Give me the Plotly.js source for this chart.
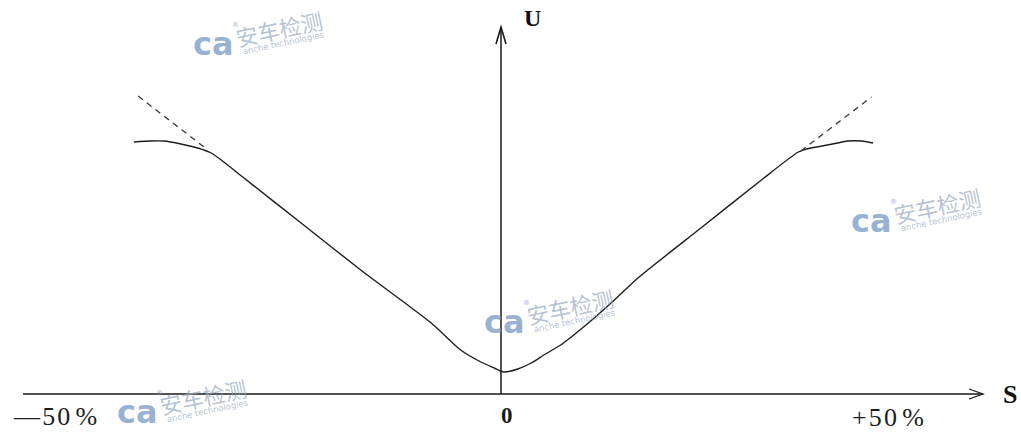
<!DOCTYPE html>
<html>
<head>
<meta charset="utf-8">
<script src="https://cdn.plot.ly/plotly-3.0.1.min.js"></script>
<style>
  html, body { margin: 0; padding: 0; background: #ffffff; }
  #chart { width: 1021px; height: 432px; }
</style>
</head>
<body>
<div id="chart"></div>
<script>
// Slip S (%) against quantity U: V-shaped characteristic, rounded at S = 0,
// saturating towards the ends (solid) versus the ideal linear trend (dashed).
const leftS  = [-43.7, -41.7, -40.1, -38.1, -36.1, -34.5, -33.3, -30.6, -23.8, -16.7, -8.3, -4.8, -2.4, -0.8, 0.3];
const leftU  = [63.0, 63.25, 63.25, 62.5, 61.5, 60.25, 58.5, 54.0, 42.75, 31.0, 17.75, 11.0, 8.0, 6.5, 5.5];
const rightS = [2.0, 3.6, 5.1, 7.1, 10.4, 13.5, 16.3, 23.8, 31.0, 35.4, 36.9, 38.9, 41.3, 42.9, 44.3];
const rightU = [6.25, 7.75, 9.75, 12.25, 17.75, 23.5, 29.0, 41.5, 53.5, 60.5, 61.5, 62.25, 63.25, 63.25, 62.75];

const idealLeftS  = [-43.2, -34.9];
const idealLeftU  = [74.5, 61.0];
const idealRightS = [35.7, 44.1];
const idealRightU = [60.75, 74.25];

const tickLabels = ['\u2014\u200a5\u200a0\u2009%', '0', '+\u200a5\u200a0\u2009%'];
const axisNames  = ['S', 'U'];

const W = 1021, H = 432;
const px = x => x / W;          // pixel -> paper (x)
const py = y => 1 - y / H;      // pixel -> paper (y)

const curveS = leftS.concat(rightS);
const curveU = leftU.concat(rightU);

const traces = [
  { x: curveS, y: curveU, mode: 'lines', line: { color: '#1e1e1e', width: 1.4, shape: 'spline', smoothing: 0.6 }, hoverinfo: 'skip' },
  { x: idealLeftS, y: idealLeftU, mode: 'lines', line: { color: '#3a3a3a', width: 1.3, dash: '6px,5px' }, hoverinfo: 'skip' },
  { x: idealRightS, y: idealRightU, mode: 'lines', line: { color: '#3a3a3a', width: 1.3, dash: '6px,5px' }, hoverinfo: 'skip' }
];

const serif = 'Liberation Serif, Times New Roman, serif';

function label(x, y, text, size, color) {
  return { xref: 'paper', yref: 'paper', x: px(x), y: py(y), xanchor: 'center', yanchor: 'middle',
           text: text, showarrow: false, font: { family: serif, size: size, color: color } };
}

const annotations = [
  label(55, 416, tickLabels[0], 26, '#1e1e1e'),
  label(507, 415, '<b>' + tickLabels[1] + '</b>', 23, '#1a1a1a'),
  label(888, 417, tickLabels[2], 26, '#1e1e1e'),
  label(1010, 394, '<b>' + axisNames[0] + '</b>', 26, '#111'),
  label(532, 18, '<b>' + axisNames[1] + '</b>', 24, '#111')
];

// Faint company watermarks stamped over the figure
const wmText = 'rgba(150,168,192,0.7)';
const wmLogo = 'rgba(120,152,195,0.75)';
const marks = [[570, 306], [279, 28], [937, 205], [203, 396]];
marks.forEach(([cx, cy]) => {
  const at = (dx, dy) => ({ xref: 'paper', yref: 'paper', x: px(cx + dx), y: py(cy + dy), xanchor: 'center', yanchor: 'middle', showarrow: false });
  annotations.push(Object.assign(at(0, 0), { text: '安车检测', textangle: -12,
    font: { family: 'Noto Sans CJK SC', size: 22, color: wmText } }));
  annotations.push(Object.assign(at(4, 15), { text: 'anche technologies', textangle: -12,
    font: { family: 'DejaVu Sans', size: 8.5, color: wmText } }));
  annotations.push(Object.assign(at(-66, 16), { text: '<b>ca</b>',
    font: { family: 'DejaVu Sans', size: 32, color: wmLogo } }));
  annotations.push(Object.assign(at(-44, -3), { text: '®',
    font: { family: 'DejaVu Sans', size: 7, color: wmLogo } }));
});

const shapes = [
  // S axis with open arrowhead
  { type: 'line', xref: 'paper', yref: 'y', x0: px(23), x1: px(983), y0: 0, y1: 0, line: { color: '#1a1a1a', width: 1.5 } },
  { type: 'path', xref: 'paper', yref: 'y', xsizemode: 'pixel', ysizemode: 'pixel', xanchor: px(983), yanchor: 0,
    path: 'M-14,5 L0,0 L-14,-5', line: { color: '#1a1a1a', width: 1.3 } },
  // U axis with arrowhead
  { type: 'line', xref: 'x', yref: 'paper', x0: 0, x1: 0, y0: py(394), y1: py(27), line: { color: '#1a1a1a', width: 1.5 } },
  { type: 'path', xref: 'x', yref: 'paper', xsizemode: 'pixel', ysizemode: 'pixel', xanchor: 0, yanchor: py(27),
    path: 'M-5,-17 L0,0 L5,-17', line: { color: '#1a1a1a', width: 1.6 } }
];

const layout = {
  width: W, height: H,
  margin: { l: 0, r: 0, t: 0, b: 0 },
  paper_bgcolor: '#ffffff', plot_bgcolor: '#ffffff',
  showlegend: false,
  xaxis: { range: [-501 / 8.4, 520 / 8.4], visible: false, fixedrange: true },
  yaxis: { range: [-38 / 4, 394 / 4], visible: false, fixedrange: true },
  annotations: annotations,
  shapes: shapes
};

Plotly.newPlot('chart', traces, layout, { displayModeBar: false, staticPlot: true });
</script>
</body>
</html>
